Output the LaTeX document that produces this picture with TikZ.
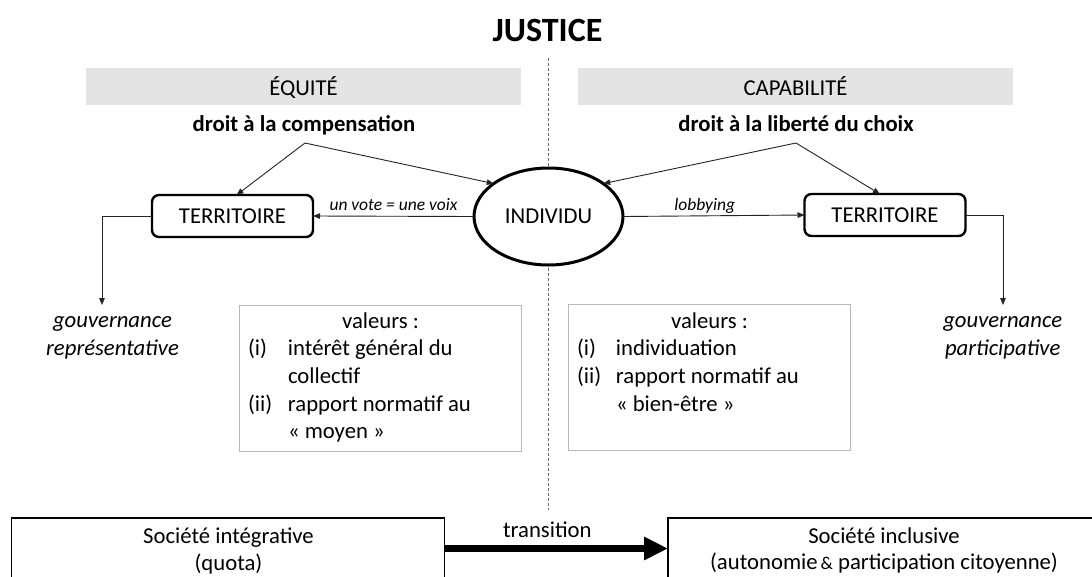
\documentclass[tikz,border=0pt]{standalone}
\usepackage{fontspec}
\setmainfont{Carlito}
\usetikzlibrary{arrows.meta,shapes.geometric}
\definecolor{barfill}{RGB}{228,228,228}
\definecolor{valborder}{RGB}{185,185,185}
\definecolor{lineg}{RGB}{35,35,35}
\definecolor{dashg}{RGB}{110,110,110}
\newcommand{\mainfs}{\fontsize{22.7pt}{27.7pt}\selectfont}
\newcommand{\labfs}{\fontsize{17.5pt}{21pt}\selectfont}
\newcommand{\titfs}{\fontsize{34pt}{40pt}\selectfont}
\begin{document}
\begin{tikzpicture}[x=1pt,y=-1pt,
 every node/.style={font=\mainfs, inner sep=0pt, outer sep=0pt, text=black},
 bar/.style={fill=barfill, minimum width=435pt, minimum height=37pt},
 terr/.style={draw=black, line width=2.4pt, rounded corners=7pt, minimum width=161pt, minimum height=42pt},
 indiv/.style={ellipse, draw=black, line width=3pt, fill=white, minimum width=149pt, minimum height=97pt},
 conn/.style={draw=lineg, line width=0.9pt, -{Triangle[length=7pt,width=5.5pt]}},
 valbox/.style={draw=valborder, line width=1.3pt, minimum width=282pt, minimum height=146pt},
 socbox/.style={draw=black, line width=1.6pt, minimum height=61.5pt},
 bigarrow/.style={draw=black, line width=7pt, -{Triangle[length=24pt,width=22pt]}},
 divider/.style={draw=dashg, line width=1pt, dash pattern=on 3pt off 2pt},
 lab/.style={font=\labfs\itshape},
 gov/.style={font=\mainfs\itshape, anchor=base},
]
\useasboundingbox (0,0) rectangle (1092,576);
\fill[white] (0,0) rectangle (1092,576);
\clip (0,0) rectangle (1092,576);

% title and divider
\node[font=\titfs\bfseries, anchor=base] (title) at (547.5,41.7) {JUSTICE};
\coordinate (dtop) at (548.5,58);
\coordinate (dbot) at (548.5,510);
\draw[divider] (dtop) -- (dbot);

% headers
\node[bar] (eqbar) at (303.5,86.5) {};
\node[anchor=base] (eq) at (303.5,95) {ÉQUITÉ};
\node[bar] (capbar) at (795.5,86.5) {};
\node[anchor=base] (cap) at (795.5,95) {CAPABILITÉ};

\node[font=\mainfs\bfseries, anchor=base] (drL) at (304,131) {droit à la compensation};
\node[font=\mainfs\bfseries, anchor=base] (drR) at (796,131) {droit à la liberté du choix};
\coordinate (apexL) at (305,143);
\coordinate (apexR) at (796,143);

% main nodes
\node[terr] (terL) at (232.5,216) {TERRITOIRE};
\node[terr] (terR) at (885,215) {TERRITOIRE};
\node[indiv] (ind) at (548.5,216.5) {INDIVIDU};

% connectors
\draw[conn] (apexL) -- ([xshift=4pt]terL.north);
\draw[conn] (apexL) -- (ind.149);
\draw[conn] (apexR) -- (ind.31);
\draw[conn] (apexR) -- ([xshift=-5pt]terR.north);
\draw[conn] (ind.west) -- node[lab, pos=0.5, anchor=base, yshift=5.5pt] (vote) {un vote = une voix} (terL.east);
\draw[conn] (ind.east) -- node[lab, pos=0.45, anchor=base, yshift=5.5pt] (lobby) {lobbying} (terR.west);

\coordinate (govLtip) at (102,305);
\coordinate (govRtip) at (1003,305);
\draw[conn] (terL.west) -| (govLtip);
\draw[conn] (terR.east) -| (govRtip);
\node[gov] (govL) at (112.5,327.7) {\begin{tabular}[t]{@{}c@{}}gouvernance\\représentative\end{tabular}};
\node[gov] (govR) at (1002.7,327.7) {\begin{tabular}[t]{@{}c@{}}gouvernance\\participative\end{tabular}};

% value boxes
\node[valbox] (valL) at (380.5,378.5) {};
\node[anchor=base] (valLt) at (380.5,328) {valeurs :};
\node[anchor=base west] (valLl) at (248,355.7) {\begin{tabular}[t]{@{}l@{}l@{}}
\makebox[40pt][l]{(i)} & intérêt général du\\
 & collectif\\
\makebox[40pt][l]{(ii)} & rapport normatif au\\
 & « moyen »
\end{tabular}};

\node[valbox] (valR) at (709.5,377.5) {};
\node[anchor=base] (valRt) at (709.5,328) {valeurs :};
\node[anchor=base west] (valRl) at (577,355.7) {\begin{tabular}[t]{@{}l@{}l@{}}
\makebox[39pt][l]{(i)} & individuation\\
\makebox[39pt][l]{(ii)} & rapport normatif au\\
 & « bien-être »
\end{tabular}};

% societies
\node[socbox, minimum width=433pt] (soc1) at (228,548.5) {};
\node[socbox, minimum width=434pt] (soc2) at (885,548.5) {};
\node[anchor=base] (soc1a) at (228.5,543) {Société intégrative};
\node[anchor=base] (soc1b) at (228.5,570) {(quota)};
\node[anchor=base] (soc2a) at (884,543) {Société inclusive};
\node[anchor=base] (soc2b) at (884,569.5) {(autonomie{\fontsize{18pt}{20pt}\selectfont\,\&} participation citoyenne)};
\draw[bigarrow] (soc1.east) -- node[anchor=base, pos=0.46, yshift=11pt] (trans) {transition} (soc2.west);
\end{tikzpicture}
\end{document}
